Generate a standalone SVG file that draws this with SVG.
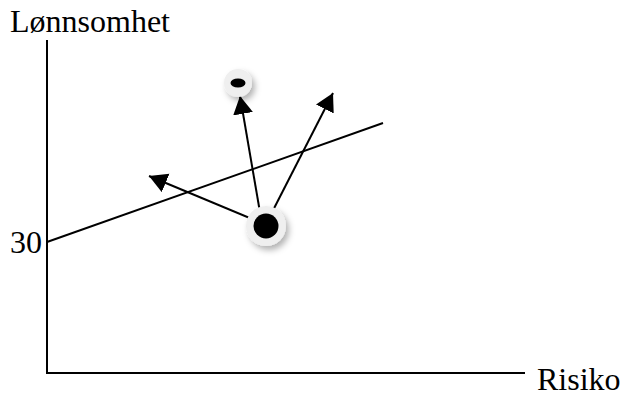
<svg xmlns="http://www.w3.org/2000/svg" width="622" height="397" viewBox="0 0 622 397">
<style>
.t{font-family:"Liberation Serif","Times New Roman",serif;font-size:32px;fill:#000}
.ln{stroke:#000;stroke-width:2;fill:none}
.halo{fill:#efefef;filter:url(#sh)}
</style>
<defs>
<marker id="ah" markerUnits="userSpaceOnUse" markerWidth="20" markerHeight="22" refX="18" refY="10" orient="auto">
<path d="M0,0 L18,10 L0,20 Z" fill="#000"/>
</marker>
<filter id="sh" x="-50%" y="-50%" width="200%" height="200%">
<feDropShadow dx="3" dy="4" stdDeviation="3" flood-color="#000" flood-opacity="0.3"/>
</filter>
</defs>
<rect width="622" height="397" fill="#fff"/>
<g id="axes">
<line class="ln" x1="47" y1="40" x2="47" y2="374"/>
<line class="ln" x1="46" y1="373" x2="525" y2="373"/>
</g>
<g id="labels">
<text class="t" x="10" y="32">Lønnsomhet</text>
<text class="t" x="10" y="253">30</text>
<text class="t" x="537" y="390">Risiko</text>
</g>
<g id="trendline">
<line class="ln" x1="47" y1="242" x2="383" y2="123"/>
</g>
<g id="connectors">
<line class="ln" x1="264" y1="224" x2="149" y2="176" marker-end="url(#ah)"/>
<line class="ln" x1="262" y1="224" x2="240" y2="96" marker-end="url(#ah)"/>
<line class="ln" x1="266" y1="224" x2="333" y2="93" marker-end="url(#ah)"/>
</g>
<g id="node-big">
<circle class="halo" cx="266" cy="226" r="20"/>
<circle cx="266" cy="226" r="12.5" fill="#000"/>
</g>
<g id="node-small">
<circle class="halo" cx="238" cy="83" r="14"/>
<ellipse cx="238" cy="83" rx="7.5" ry="4.5" fill="#000"/>
</g>
</svg>
